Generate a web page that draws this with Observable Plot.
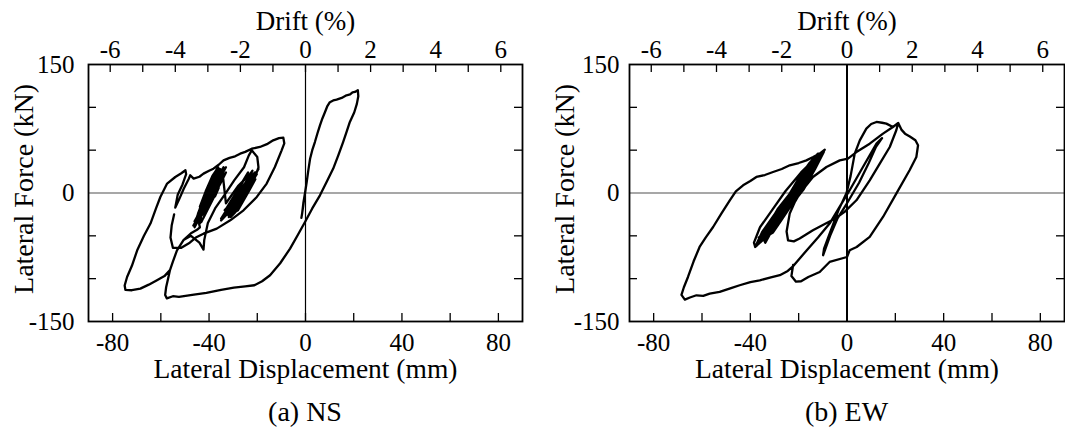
<!DOCTYPE html>
<html><head><meta charset="utf-8">
<script src="https://cdn.jsdelivr.net/npm/d3@7"></script>
<script src="https://cdn.jsdelivr.net/npm/@observablehq/plot@0.6"></script>
<style>
body{margin:0;background:#fff;font-family:"Liberation Serif","Times New Roman",serif;}
#wrap{position:relative;width:1065px;height:430px;overflow:hidden;}
.panel{position:absolute;top:0;height:430px;}
.cap{position:absolute;top:398px;width:200px;height:28px;line-height:28px;text-align:center;font-size:28px;color:#000;}
</style></head><body><div id="wrap"></div>
<script>
// Axis ticks
const xMajor = [-80, -40, 0, 40, 80];
const xMinor = [-80, -60, -40, -20, 0, 20, 40, 60, 80];
const driftMajor = [-6, -4, -2, 0, 2, 4, 6];
const driftMinor = [-6, -5, -4, -3, -2, -1, 0, 1, 2, 3, 4, 5, 6];
const yMajor = [-150, 0, 150];
const yMinor = [-100, -50, 50, 100];
const mmPerDrift = 13.5; // 1 % drift = 13.5 mm
const captions = ["(a) NS", "(b) EW"];

// (a) NS: [lateral displacement mm, lateral force kN]
const nsPath = [
[-0.4,-4],[-0.9,-14],[-1.3,-22],[-1.7,-29],[-1.4,-24],[-0.9,-12],[-0.2,0],[0.5,12.8],[1.2,27],[1.9,40],[2.8,50],[3.9,59.5],[5,70],[6,79],[7,87],[8.1,94.5],[9,101],[10.1,106],[11.5,108],[12.9,109],[15,111],[17,114],[18.5,115],[19.5,117.5],[20.5,118],[21.7,120],
[21.9,113],[21.3,104],[20.2,94],[18.4,83],[17,71],[15.6,59.5],[13.6,44],[11.5,28.5],[8.8,13],[6,-2.7],[2.8,-18],[-0.2,-33.8],[-3.2,-49],[-6.4,-64.9],[-10.5,-82],[-14.7,-96],[-18,-103],[-21.2,-107.7],[-25,-109],[-29.7,-110.4],[-35,-113],[-41.1,-116.7],[-47,-119],[-52.5,-121.3],[-55,-120.5],[-57.5,-123],[-58.2,-119],
[-57.8,-110],[-57,-100],[-56.2,-90],[-55,-80],[-53.3,-67],[-50.6,-55],[-47.5,-47],[-45,-43],[-43.8,-40],[-44.2,-35],[-46,-33],[-45.2,-29],
[-40,-5],[-36.5,18],[-35.5,28],[-37,22],[-41,0],[-44,-25],[-45.5,-34],[-43.5,-28],[-39,-2],[-35,24],[-34,30],[-36.5,20],[-40.5,-5],[-43,-22],[-44.5,-30],[-42,-18],[-38.5,6],[-36,26],[-38,12],[-42,-12],[-44,-36],[-42.5,-30],[-38,-5],[-34.5,18],[-33,24],[-35.5,10],[-40,-12],[-43,-26],[-41,-20],[-36,6],
[-37.5,-4],[-41.5,-12],[-44.8,-33],[-41.5,-12],[-38,10],[-35.8,24],[-36.8,28],[-39.5,12],[-42.8,-10],[-45,-28],[-44,-31],[-40.5,-10],[-37.2,14],[-35,27],[-37.8,18],[-41.8,-4],[-44.6,-24],[-43.2,-34],[-39.8,-14],[-36.5,8],[-34.6,22],[-36.2,16],[-39.2,-2],[-42.2,-20],[-45.3,-36],[-43,-24],[-40,-6],[-37.4,20],[-36.2,30],[-38.6,20],[-41.4,2],[-43.8,-16],[-40,-8],
[-46,-40],[-44,-20],[-40,5],[-36,22],[-33,30],[-35,20],[-39,0],[-43,-22],[-46.5,-38],[-44.5,-28],[-41,-8],[-37.5,14],[-34.5,26],
[-33,-12],[-28,8],[-23,22],[-22,26],[-24,14],[-29,-10],[-33,-24],[-31,-18],[-26,6],[-21.5,20],[-20.5,24],[-23,10],[-28,-14],[-31,-28],[-29,-22],[-25,0],[-22,18],[-24,8],[-29,-8],[-33.5,-20],[-30,-10],[-25.5,10],[-21,24],[-22.5,12],[-27,-6],[-32,-26],[-29.5,-16],[-24,8],[-20.8,16],[-23.5,2],[-28,-20],[-30.5,-24],
[-32.5,-22],[-28.5,-4],[-24.5,14],[-21.8,22],[-23.2,18],[-26.5,2],[-30.5,-14],[-33.8,-26],[-31.5,-22],[-27.5,-2],[-23.5,16],[-20.2,22],[-22,14],[-26,-4],[-29.8,-20],[-31.8,-28],[-28.8,-12],[-25,6],[-22.5,20],[-24.8,12],[-28.2,-6],[-32.8,-18],[-30.2,-6],[-26.2,12],[-23.8,24],[-26.8,10],[-30.8,-12],[-33.2,-22],[-29,-14],[-25,4],[-21.2,18],[-24,6],[-28,-12],
[-35,-30],[-31,-12],[-26,8],[-21,22],[-19.5,28],[-21.5,18],[-26,0],[-31,-20],[-35,-32],[-32,-22],[-28,-6],
[-26,-8],[-22,10],[-19.5,30],[-20,42],[-22.3,49.8],[-23.5,44],[-25.5,30],[-29.5,15],[-33.5,-2],[-37.5,-18],[-40.5,-35],[-42,-55],[-42.3,-66],[-44,-58],[-47.5,-50],[-50.6,-55],[-53.3,-67],[-55,-80],[-56.2,-90],
[-58.5,-97],[-61.6,-101.9],[-65,-107],[-68.5,-111.6],[-72,-113.5],[-74.7,-113],[-75,-108],[-74,-98],[-72,-85],[-69.8,-66.9],[-67,-50],[-64.3,-35.7],[-62,-18],[-60.2,-4.7],[-57.4,11],[-54,18.7],[-51.5,23],[-49.8,26.5],[-49.5,22],[-51,10],[-53,-2],[-54,-17],[-52.5,-8],[-50.5,5],[-48.5,16],[-47.8,20.7],[-46.4,16.8],[-44,19],[-42.3,22.6],[-40,26],[-38.2,28.4],[-36,33],[-34,38.1],[-31.5,41],[-29.2,42.8],[-27.1,45.9],[-25,48],[-22.3,51.7],[-18.9,53.7],[-16,57],[-13.4,61.5],[-11,64],[-9.2,64.6],[-8.8,58],[-9.9,49.8],[-12.7,30.4],[-16.1,11],[-20.2,-4.6],[-25.7,-20.2],[-31.2,-31.9],[-36.8,-41.6],[-42.3,-47.5],[-45.5,-52],[-48,-58],[-51.5,-64],[-55,-64],[-56,-52],[-55.5,-38],[-54.5,-25]
];

// (b) EW: [lateral displacement mm, lateral force kN]
const ewPath = [
[-21,-2],[-18,10],[-15.2,20],[-12.5,33],[-10.5,46],[-12,40],[-14.5,30],[-18,20],[-22.8,0],[-27.8,-20],[-32.6,-40],[-34,-55],[-32,-48],[-30,-40],[-25,-20],[-20.2,0],[-14,25],[-11.5,38],[-9.8,47],[-11.5,44],[-16.8,25],[-22.8,0],[-26,-14],[-30,-30],[-34,-46],[-37.5,-62],[-36,-56],[-29.7,-40],[-26,-25],[-22.8,-10],[-18.5,8],[-15.5,20],[-12.5,34],[-11,43],[-13,36],[-16,26],[-20,10],[-24,-5],[-28,-20],[-32,-36],[-36,-58],[-34.5,-54],[-31,-42],[-25.5,-18],[-22,-4],[-19,8],[-16,22],[-13.5,30],[-11.5,40],
[-12.6,42],[-16,30],[-20.6,12],[-25.5,-8],[-30,-26],[-33.4,-44],[-36.8,-60],[-33,-48],[-29.5,-30],[-25,-10],[-20,10],[-15,26],[-11.8,40],[-10.2,48],[-12.6,42],[-16,30],[-20.6,12],[-25.5,-8],[-30,-26],[-33.4,-44],[-36.5,-52],[-35,-48],[-31,-34],[-27,-16],[-22.8,2],[-17.5,20],[-13.5,36],[-10.8,46],[-12,46],[-15.8,34],[-19.8,18],[-24,-2],[-28.5,-18],[-32.2,-36],[-35.2,-50],[-33.8,-58],[-32.6,-52],[-28.6,-30],[-24.2,-12],[-19.4,6],[-14.6,24],[-11.2,42],[-13.8,34],[-18.6,14],[-23.2,-4],[-27.2,-22],[-31.5,-40],[-34.2,-52],[-30.6,-46],[-27.2,-32],[-23,-14],[-18,4],[-13.2,28],[-9.6,48],[-11.6,44],[-14.8,32],[-19.2,12],[-23.6,-6],[-27.8,-24],[-30.8,-38],[-29.2,-34],[-25.6,-18],[-21.2,0],[-16.4,18],[-12.4,36],
[-10.5,44],[-14,38],[-19,24],[-25.5,2],[-31,-20],[-36,-40],[-38.5,-58],[-38,-63],[-35,-45],[-30,-25],[-24,-3],[-17,20],[-12,38],[-9.2,50.6],
[-11.3,46],[-14,42],[-16.8,38.1],[-20,35],[-23.7,32.3],[-27,28],[-30.6,24.5],[-34,21],[-37.5,18.7],[-40,14],[-43,9],[-46,2],[-48.5,-8.5],[-52,-24],[-55.4,-39.7],[-58.5,-52],[-61,-63],[-63.5,-80],[-65.8,-98],[-67.5,-110],[-68.5,-119],[-67.1,-124.5],[-65,-122],[-62.3,-119.4],[-59.5,-120],[-56.8,-117.4],[-52.7,-115.5],[-48,-111],[-44.4,-107.7],[-40,-104],[-36.1,-101.9],[-31.5,-98.5],[-27.8,-96],[-24.5,-91],[-22.5,-86],
[-17,-68],[-12,-52],[-7.2,-35.7],[-3,-16],[1.1,3.2],[6.6,30.3],[12.2,57.6],[14.5,64],
[12,54],[9,35],[5,12],[0,-12],[-4,-30],[-7,-50],[-9.9,-72.7],[-9.5,-65],[-7,-46],[-3.5,-20],[-0.2,0],[1.5,20],[3.2,46],[5.3,61.5],[8,75.1],[10,80.5],[12.2,82.9],[14.5,82],[16.3,81],[19,77],[21.2,81.7],
[20.4,73.2],[17.7,53.7],[13.5,34],[9.4,14.8],[3.9,-8.5],[-1,-22],[-5,-30],[-9,-36],[-14.1,-43.5],[-19.6,-53.2],[-22,-56.5],[-24.4,-55.2],[-25,-45],[-23.7,-24],[-21.5,-10],[-19.6,-0.7],[-14.1,18.7],[-8.5,30.4],[-3,38.1],[0.4,40.1],[3.9,47.8],[9.4,57.6],[14.9,69.3],[19,77],[21.2,81.7],
[22.5,74],[24,69.3],[26,66],[28.3,61.5],[29.4,55.7],[28.7,42],[25.9,26.5],[20.4,-0.7],[14.9,-28],[9.4,-51.3],[4,-63],[1.1,-66.9],[0,-74.7],[-7.2,-80.5],[-11.3,-92.2],[-16,-98],[-19,-103],[-21.1,-103.5],[-23,-97],[-22.3,-84]
];

const FONT = '"Liberation Serif", "Times New Roman", serif';

function makePanel(path, o) {
  const H = 385, mt = 64, mb = 64;
  const fh = H - mt - mb;
  const fw = o.width - o.marginLeft - o.marginRight;
  const tick = {stroke: "#000", strokeWidth: 1.3};
  const txt = {fontSize: 25};
  return Plot.plot({
    width: o.width, height: H,
    marginTop: mt, marginBottom: mb, marginLeft: o.marginLeft, marginRight: o.marginRight,
    x: {domain: [-90, 90]},
    y: {domain: [-150, 150]},
    style: {fontFamily: FONT, fontSize: "26px", color: "#000", background: "#fff", overflow: "visible"},
    marks: [
      Plot.ruleY([0], {stroke: "#8a8a8a", strokeWidth: 1.3}),
      Plot.ruleX([0], {stroke: "#000", strokeWidth: o.zeroW}),
      Plot.line(path, {x: d => d[0], y: d => d[1], stroke: "#000", strokeWidth: 2.3, strokeLinejoin: "round", strokeLinecap: "round"}),
      Plot.ruleX(xMinor, {x: d => d, insetTop: fh - 8, ...tick}),
      Plot.ruleX(driftMinor, {x: d => d * mmPerDrift, insetBottom: fh - 8, ...tick}),
      Plot.ruleY(yMinor, {y: d => d, insetRight: fw - 8, ...tick}),
      Plot.ruleY(yMinor, {y: d => d, insetLeft: fw - 8, ...tick}),
      Plot.frame({stroke: "#000", strokeWidth: 1.8}),
      Plot.axisX(xMajor, {anchor: "bottom", tickSize: 0, tickPadding: 21, lineAnchor: "middle", tickFormat: d => String(d), label: null, ...txt}),
      Plot.axisX(driftMajor.map(d => d * mmPerDrift), {anchor: "top", tickSize: 0, tickPadding: 15, lineAnchor: "middle", tickFormat: d => String(Math.round(d / mmPerDrift)), label: null, ...txt}),
      Plot.axisY(yMajor, {anchor: "left", tickSize: 0, tickPadding: o.yPad, tickFormat: d => String(d), label: null, ...txt}),
      Plot.text(["Drift (%)"], {text: d => d, frameAnchor: "top", lineAnchor: "middle", textAnchor: "middle", dy: -43, fontSize: 27}),
      Plot.text(["Lateral Displacement (mm)"], {text: d => d, frameAnchor: "bottom", lineAnchor: "middle", textAnchor: "middle", dy: 47.5, fontSize: 27.5}),
      Plot.text(["Lateral Force (kN)"], {text: d => d, frameAnchor: "left", lineAnchor: "middle", textAnchor: "middle", dx: -64, dy: -4, rotate: -90, fontSize: 28})
    ]
  });
}

const specs = [
  {path: nsPath, caption: captions[0], left: 0, width: 532, marginLeft: 88, marginRight: 10, yPad: 14, zeroW: 1.2},
  {path: ewPath, caption: captions[1], left: 532, width: 533, marginLeft: 97, marginRight: 1, yPad: 10, zeroW: 2}
];
const wrap = document.getElementById("wrap");
for (const s of specs) {
  const div = document.createElement("div");
  div.className = "panel";
  div.style.left = s.left + "px";
  div.style.width = s.width + "px";
  div.appendChild(makePanel(s.path, s));
  const cap = document.createElement("div");
  cap.className = "cap";
  const center = s.marginLeft + (s.width - s.marginLeft - s.marginRight) / 2;
  cap.style.left = (center - 100) + "px";
  cap.textContent = s.caption;
  div.appendChild(cap);
  wrap.appendChild(div);
}
</script>
</body></html>
